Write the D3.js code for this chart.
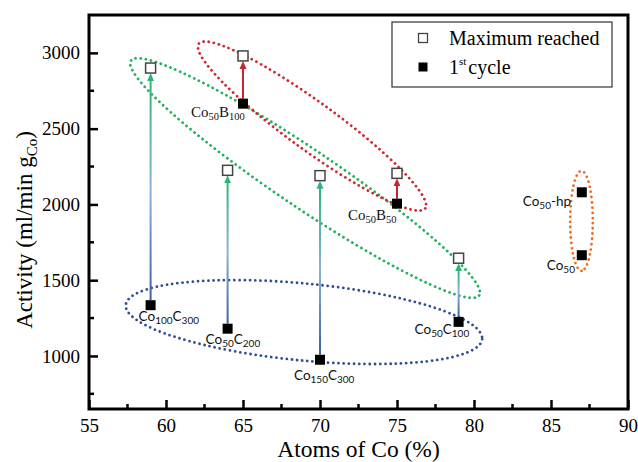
<!DOCTYPE html>
<html>
<head>
<meta charset="utf-8">
<script src="https://cdn.jsdelivr.net/npm/d3@7"></script>
<style>
body{margin:0;background:#fff;}
</style>
</head>
<body>
<svg id="chart" width="638" height="462"></svg>
<script>
// samples that have a 1st cycle value and a maximum value
var samples = ["Co100C300","Co50C200","Co50B100","Co150C300","Co50B50","Co50C100"];
var atomsCo = [59,64,65,70,75,79];
var firstCycle = [1335,1180,2665,975,2005,1225];
var maxReached = [2900,2225,2980,2190,2205,1645];
var family = ["C","C","B","C","B","C"];
// bare cobalt samples (1st cycle only)
var bareNames = ["Co50-hp","Co50"];
var bareAtoms = [87,87];
var bareValues = [2080,1665];
var xTicks = [55,60,65,70,75,80,85,90];
var yTicks = [1000,1500,2000,2500,3000];
// dotted group ellipses: centre in data units
var ellNames = ["maxC","B","firstC","bare"];
var ellX = [69.03,69.48,68.96,86.98];
var ellY = [2174,2517,1224,1891];

var plotL = 89, plotR = 628, plotT = 15, plotB = 409;
var serif = "'Liberation Serif','Times New Roman',serif";
var sans = "Lato,'Open Sans',sans-serif";

var x = d3.scaleLinear().domain([55,90]).range([plotL,plotR]);
var y = d3.scaleLinear().domain([650,3250]).range([plotB,plotT]);

var svg = d3.select("#chart");
var defs = svg.append("defs");

// ellipse shapes (px) and colours
var ellShape = {
    maxC:  {a:210, b:29,   rot:34,  color:"#1fb25a"},
    B:     {a:140, b:24,   rot:36,  color:"#d4262c"},
    firstC:{a:179, b:38.5, rot:5.5, color:"#2c4f94"},
    bare:  {a:50,  b:11.3, rot:90,  color:"#f26b1d"}
};

// label offsets from 1st cycle marker (px)
var labelPos = {
    "Co100C300":[-12,15.5,"sans"], "Co50C200":[-22,15.5,"sans"], "Co150C300":[-26,20,"sans"],
    "Co50C100":[-44,12,"sans"], "Co50B100":[-52,13,"serif"], "Co50B50":[-49,16,"serif"],
    "Co50-hp":[-59,14,"sans"], "Co50":[-35,15,"sans"]
};

// minor ticks
var xMinor = xTicks.slice(0,-1).map(function(v){ return v+2.5; });
var yMinor = yTicks.map(function(v){ return v-250; });

svg.append("g").selectAll("line").data(xMinor).enter().append("line")
    .attr("x1",function(d){return x(d);}).attr("x2",function(d){return x(d);})
    .attr("y1",plotB).attr("y2",plotB-5)
    .attr("stroke","#000").attr("stroke-width",2.5);
svg.append("g").selectAll("line").data(yMinor).enter().append("line")
    .attr("y1",function(d){return y(d);}).attr("y2",function(d){return y(d);})
    .attr("x1",plotL).attr("x2",plotL+5)
    .attr("stroke","#000").attr("stroke-width",2.5);

var xAxis = svg.append("g").attr("transform","translate(0,"+plotB+")")
    .call(d3.axisBottom(x).tickValues(xTicks).tickSizeInner(-9).tickSizeOuter(0).tickPadding(10));
var yAxis = svg.append("g").attr("transform","translate("+plotL+",0)")
    .call(d3.axisLeft(y).tickValues(yTicks).tickSizeInner(-9).tickSizeOuter(0).tickPadding(9).tickFormat(d3.format("d")));
[xAxis,yAxis].forEach(function(g){
    g.select(".domain").remove();
    g.selectAll(".tick line").attr("stroke","#000").attr("stroke-width",2.5);
    g.selectAll(".tick text").attr("font-family",serif).attr("font-size",19).attr("fill","#000");
});

// frame
svg.append("rect").attr("x",plotL).attr("y",plotT).attr("width",plotR-plotL).attr("height",plotB-plotT)
    .attr("fill","none").attr("stroke","#000").attr("stroke-width",3);

// axis titles
svg.append("text").attr("x",(plotL+plotR)/2).attr("y",457).attr("text-anchor","middle")
    .attr("font-family",serif).attr("font-size",23.5).text("Atoms of Co (%)");
var yt = svg.append("text").attr("transform","translate(32,230) rotate(-90)").attr("text-anchor","middle")
    .attr("font-family",serif).attr("font-size",23);
yt.append("tspan").text("Activity (ml/min g");
yt.append("tspan").attr("font-size",15).attr("dy",5).text("Co");
yt.append("tspan").attr("dy",-5).text(")");

// ellipses
ellNames.forEach(function(n,i){
    var s = ellShape[n], cx = x(ellX[i]), cy = y(ellY[i]);
    svg.append("ellipse").attr("cx",cx).attr("cy",cy).attr("rx",s.a).attr("ry",s.b)
        .attr("transform","rotate("+s.rot+","+cx+","+cy+")")
        .attr("fill","none").attr("stroke",s.color).attr("stroke-width",2.8)
        .attr("stroke-linecap","round").attr("stroke-dasharray","0 5.2");
});

// arrow markers
function addMarker(id,color){
    defs.append("marker").attr("id",id).attr("markerUnits","userSpaceOnUse")
        .attr("markerWidth",8).attr("markerHeight",8).attr("refX",3).attr("refY",4)
        .attr("orient","auto")
        .append("path").attr("d","M0,0.5 L8,4 L0,7.5 z").attr("fill",color);
}
addMarker("headG","#2fb37c");
addMarker("headR","#c4282d");

// arrows from 1st cycle to maximum
samples.forEach(function(s,i){
    var px = x(atomsCo[i]), y1 = y(firstCycle[i]) - 5, y2 = y(maxReached[i]) + 5 + 5;
    var stroke;
    if(family[i]=="B"){
        stroke = "#c4282d";
    } else {
        var g = defs.append("linearGradient").attr("id","grad"+i).attr("gradientUnits","userSpaceOnUse")
            .attr("x1",px).attr("x2",px).attr("y1",y1).attr("y2",y2);
        g.append("stop").attr("offset","0%").attr("stop-color","#3d5f9f");
        g.append("stop").attr("offset","50%").attr("stop-color","#8bb3d8");
        g.append("stop").attr("offset","100%").attr("stop-color","#2db577");
        stroke = "url(#grad"+i+")";
    }
    svg.append("line").attr("x1",px).attr("x2",px).attr("y1",y1).attr("y2",y2)
        .attr("stroke",stroke).attr("stroke-width",2)
        .attr("marker-end","url(#"+(family[i]=="B"?"headR":"headG")+")");
});

// markers
var sq = 10;
svg.append("g").selectAll("rect").data(samples).enter().append("rect")
    .attr("x",function(d,i){return x(atomsCo[i])-sq/2;})
    .attr("y",function(d,i){return y(maxReached[i])-sq/2;})
    .attr("width",sq).attr("height",sq)
    .attr("fill","#fff").attr("stroke","#444").attr("stroke-width",1.5);
var firstPts = samples.map(function(s,i){return {name:s, xv:atomsCo[i], yv:firstCycle[i]};})
    .concat(bareNames.map(function(s,i){return {name:s, xv:bareAtoms[i], yv:bareValues[i]};}));
svg.append("g").selectAll("rect").data(firstPts).enter().append("rect")
    .attr("x",function(d){return x(d.xv)-sq/2;})
    .attr("y",function(d){return y(d.yv)-sq/2;})
    .attr("width",sq).attr("height",sq).attr("fill","#000");

// sample labels with subscripts
firstPts.forEach(function(d){
    var p = labelPos[d.name];
    var isSerif = p[2]=="serif";
    var fs = isSerif ? 15 : 13.5, sub = isSerif ? 10.5 : 10;
    var t = svg.append("text").attr("x",x(d.xv)+p[0]).attr("y",y(d.yv)+p[1])
        .attr("font-family",isSerif?serif:sans).attr("font-size",fs).attr("fill","#111");
    var parts = d.name.match(/\d+|[^\d]+/g);
    var shifted = false;
    parts.forEach(function(pt){
        var isNum = /^\d+$/.test(pt);
        var ts = t.append("tspan").text(pt);
        if(isNum && !shifted){ ts.attr("font-size",sub).attr("dy",3); shifted = true; }
        else if(!isNum && shifted){ ts.attr("dy",-3); shifted = false; }
    });
});

// legend
var lg = svg.append("g");
lg.append("rect").attr("x",392).attr("y",22).attr("width",220).attr("height",65)
    .attr("fill","#fff").attr("stroke","#333").attr("stroke-width",1.2);
lg.append("rect").attr("x",423-4.5).attr("y",38-4.5).attr("width",9).attr("height",9)
    .attr("fill","#fff").attr("stroke","#444").attr("stroke-width",1.3);
lg.append("rect").attr("x",423-4.5).attr("y",67-4.5).attr("width",9).attr("height",9).attr("fill","#000");
lg.append("text").attr("x",449).attr("y",45).attr("font-family",serif).attr("font-size",20).text("Maximum reached");
var l2 = lg.append("text").attr("x",449).attr("y",74).attr("font-family",serif).attr("font-size",20);
l2.append("tspan").text("1");
l2.append("tspan").attr("font-size",11).attr("dy",-9).text("st");
l2.append("tspan").attr("dy",9).attr("dx",2).text("cycle");
</script>
</body>
</html>
